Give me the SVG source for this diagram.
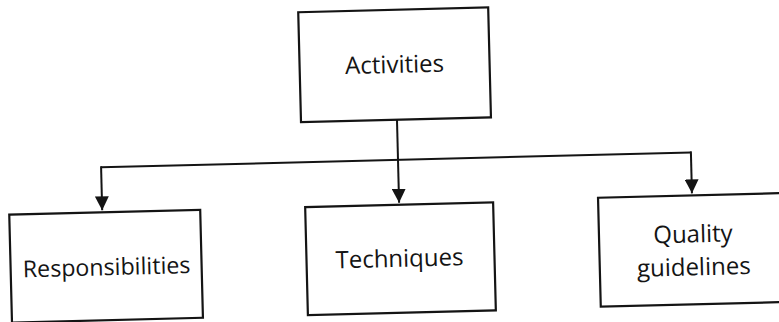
<svg xmlns="http://www.w3.org/2000/svg" width="779" height="322" viewBox="0 0 779 322">
  <style>
    .box { fill: #ffffff; stroke: #141414; stroke-width: 2.2; }
    .lbl { font-family: "Open Sans", "Noto Sans", "Liberation Sans", sans-serif; font-size: 24px; fill: #141414; text-anchor: middle; }
    .conn { fill: none; stroke: #141414; stroke-width: 2; }
  </style>
  <defs>
    <marker id="arrow" viewBox="0 0 14 14" refX="14" refY="7" markerWidth="14" markerHeight="14" markerUnits="userSpaceOnUse" orient="auto">
      <path d="M0,0 L14,7 L0,14 Z" fill="#141414"/>
    </marker>
  </defs>
  <rect width="779" height="322" fill="#ffffff"/>
  <g transform="rotate(-1.45 390 160)">
    <g id="connectors">
      <path class="conn" d="M398,120 L398,203" marker-end="url(#arrow)"/>
      <path class="conn" d="M101,160 L691,160"/>
      <path class="conn" d="M101,159 L101,203" marker-end="url(#arrow)"/>
      <path class="conn" d="M691,159 L691,201" marker-end="url(#arrow)"/>
    </g>
    <g id="activities">
      <rect class="box" x="302" y="10" width="190" height="110"/>
      <text class="lbl" x="397" y="73">Activities</text>
    </g>
    <g id="responsibilities">
      <rect class="box" x="8" y="205" width="191" height="108"/>
      <text class="lbl" x="104" y="268" style="font-size:23.2px">Responsibilities</text>
    </g>
    <g id="techniques">
      <rect class="box" x="304" y="205" width="188" height="108"/>
      <text class="lbl" x="397" y="267">Techniques</text>
    </g>
    <g id="quality-guidelines">
      <rect class="box" x="597" y="203" width="190" height="109"/>
      <text class="lbl" x="691" y="250">Quality</text>
      <text class="lbl" x="691" y="283">guidelines</text>
    </g>
  </g>
</svg>
